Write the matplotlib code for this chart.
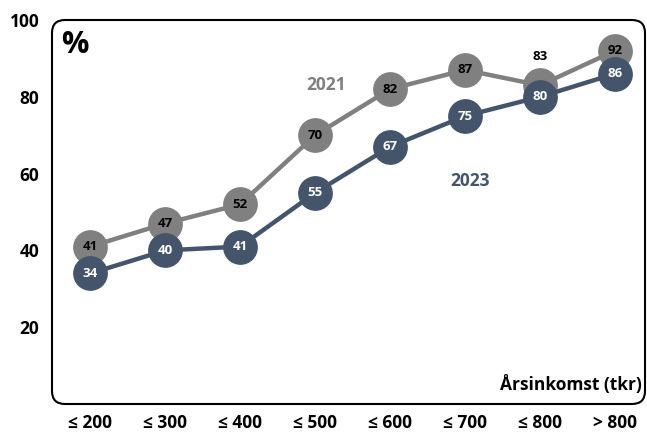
import matplotlib
matplotlib.use("Agg")
import matplotlib.pyplot as plt
from matplotlib.patches import FancyBboxPatch

plt.rcParams['font.family'] = ['Open Sans', 'DejaVu Sans']
plt.rcParams['font.weight'] = 'bold'

# data
categories = ['≤ 200', '≤ 300', '≤ 400', '≤ 500', '≤ 600', '≤ 700', '≤ 800', '> 800']
y2021 = [41, 47, 52, 70, 82, 87, 83, 92]
y2023 = [34, 40, 41, 55, 67, 75, 80, 86]
yticks = [20, 40, 60, 80, 100]

grey = '#808080'
navy = '#44546A'

fig = plt.figure(figsize=(6.47, 4.32), dpi=100)
ax = fig.add_axes([52/647, 1 - 404/432, 593/647, 384/432])

x = list(range(len(categories)))
ax.plot(x, y2021, color=grey, lw=3.2, marker='o', ms=24, zorder=2)
ax.plot(x, y2023, color=navy, lw=3.2, marker='o', ms=24, zorder=3)

for xi, v in zip(x, y2021):
    if v == 83:
        ax.annotate(str(v), (xi, v), xytext=(0, 21), textcoords='offset points',
                    ha='center', va='center', fontsize=9.5, fontweight='bold', color='black', zorder=4)
    else:
        ax.text(xi, v, str(v), ha='center', va='center', fontsize=9.5,
                fontweight='bold', color='black', zorder=4)
for xi, v in zip(x, y2023):
    ax.text(xi, v, str(v), ha='center', va='center', fontsize=9.5,
            fontweight='bold', color='white', zorder=5)

ax.set_xlim(-0.51, 7.4)
ax.set_ylim(0, 100)
ax.set_xticks(x)
ax.set_xticklabels(categories)
ax.set_yticks(yticks)
ax.tick_params(length=0, labelsize=12.5, pad=9)
ax.tick_params(axis='x', pad=7)
for s in ax.spines.values():
    s.set_visible(False)

ax.text(3.15, 83, '2021', color=grey, fontsize=12.5, fontweight='bold', ha='center', va='center')
ax.text(5.07, 58, '2023', color=navy, fontsize=12.5, fontweight='bold', ha='center', va='center')
ax.text(0.015, 0.935, '%', transform=ax.transAxes, fontsize=22, fontweight='bold', ha='left', va='center')
ax.text(0.995, 0.05, 'Årsinkomst (tkr)', transform=ax.transAxes, fontsize=12.5,
        fontweight='bold', ha='right', va='center')

# rounded frame
box = FancyBboxPatch((52/647, 1 - 404/432), 593/647, 384/432,
                     boxstyle='round,pad=0,rounding_size=0.02', mutation_aspect=647/432,
                     transform=fig.transFigure, fill=False, lw=1.5, ec='black', zorder=10)
fig.patches.append(box)

fig.savefig('out.png', dpi=100)
